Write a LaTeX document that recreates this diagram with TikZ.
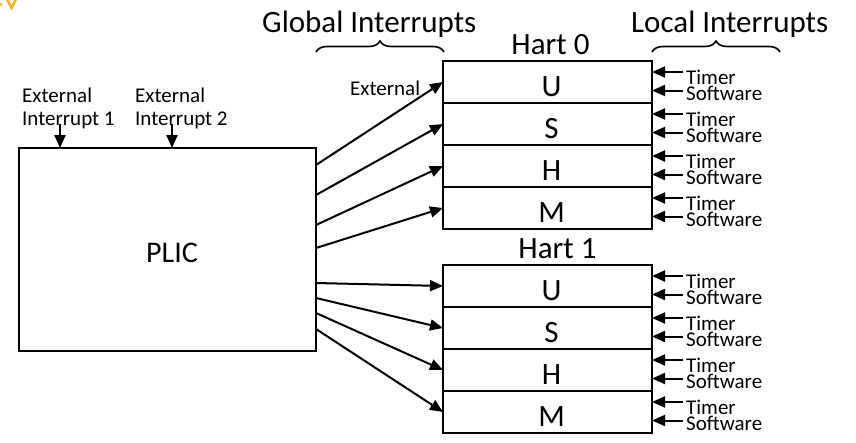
\documentclass[tikz,border=0pt]{standalone}
\usepackage{fontspec}
\setmainfont{Carlito}
\usetikzlibrary{arrows.meta,decorations.pathreplacing,calc}
\definecolor{markyellow}{HTML}{F2B423}
\newcommand\titlefont{\fontsize{31}{31}\selectfont}
\newcommand\plicfont{\fontsize{30}{30}\selectfont}
\newcommand\smallfont{\fontsize{21}{24}\selectfont}
\begin{document}
\begin{tikzpicture}[x=1pt,y=-1pt,
  arr/.style={-{Triangle[length=13pt,width=11pt]}, line width=2pt},
  rowbox/.style={draw, line width=2pt, minimum width=209pt, minimum height=42pt, inner sep=0pt, outer sep=0pt},
  rowtext/.style={font=\titlefont, inner sep=0pt, anchor=base},
  smalltext/.style={font=\smallfont, inner sep=0pt, anchor=base west},
  bigtext/.style={font=\titlefont, inner sep=0pt},
  bracestyle/.style={decorate, decoration={brace, amplitude=11pt}, line width=1.6pt}
]
\useasboundingbox (0,0) rectangle (856,442);

% stray yellow mark at the top-left corner
\draw[markyellow, line width=2.6pt] (7,-1) -- (11.5,8) -- (16,-1);
\fill[markyellow] (1,4.5) circle (1.6pt);

% PLIC
\node[draw, line width=2pt, minimum width=297pt, minimum height=203pt, inner sep=0pt, outer sep=0pt] (plic) at (167.5,249.5) {};
\node[font=\plicfont, inner sep=0pt, anchor=base] (plictext) at (172,262) {PLIC};

% external interrupt inputs
\node[smalltext] (e1a) at (22,102) {External};
\node[smalltext] (e1b) at (22,125.5) {Interrupt 1};
\node[smalltext] (e2a) at (135,102) {External};
\node[smalltext] (e2b) at (135,125.5) {Interrupt 2};
\coordinate (in1) at ($(plic.north west)+(41,-24)$);
\coordinate (in2) at ($(plic.north west)+(153,-24)$);
\draw[arr] (in1) -- (in1 |- plic.north);
\draw[arr] (in2) -- (in2 |- plic.north);

% titles
\node[bigtext, anchor=base west] (glob) at (262,32) {Global Interrupts};
\node[bigtext, anchor=base west] (loc) at (631,32) {Local Interrupts};
\node[bigtext, anchor=base] (hart0) at (550.5,54) {Hart 0};
\node[bigtext, anchor=base] (hart1) at (557.5,258) {Hart 1};

% braces
\coordinate (gb1) at (316,52);
\coordinate (gb2) at (444,52);
\coordinate (lb1) at (652,52);
\coordinate (lb2) at (780,52);
\draw[bracestyle] (gb1) -- (gb2);
\draw[bracestyle] (lb1) -- (lb2);

% harts
\foreach \h/\top in {0/61, 1/265} {
  \foreach \i/\l in {1/U,2/S,3/H,4/M} {
    \node[rowbox] (h\h r\i) at (547.5, {\top+21+(\i-1)*42}) {};
    \node[rowtext] (h\h t\i) at ($(h\h r\i.center)+(4,14)$) {\l};
    \coordinate (h\h r\i tm) at ($(h\h r\i.north east)+(31,11)$);
    \coordinate (h\h r\i ta) at ($(h\h r\i.north east)+(0,11)$);
    \coordinate (h\h r\i sw) at ($(h\h r\i.north east)+(31,29.5)$);
    \coordinate (h\h r\i sa) at ($(h\h r\i.north east)+(0,29.5)$);
    \draw[arr] (h\h r\i tm) -- (h\h r\i ta);
    \draw[arr] (h\h r\i sw) -- (h\h r\i sa);
    \node[smalltext] (h\h r\i tl) at ($(h\h r\i.north east)+(34,23)$) {Timer};
    \node[smalltext] (h\h r\i sl) at ($(h\h r\i.north east)+(34,39)$) {Software};
  }
}

% global interrupt connectors
\node[smalltext] (extlbl) at (350,95) {External};
\foreach \i/\o in {1/17,2/47,3/77,4/100} {
  \draw[arr] ($(plic.north east)+(0,\o)$) -- (h0r\i.west);
}
\foreach \i/\o in {1/135,2/150,3/165,4/181} {
  \draw[arr] ($(plic.north east)+(0,\o)$) -- (h1r\i.west);
}
\end{tikzpicture}
\end{document}
